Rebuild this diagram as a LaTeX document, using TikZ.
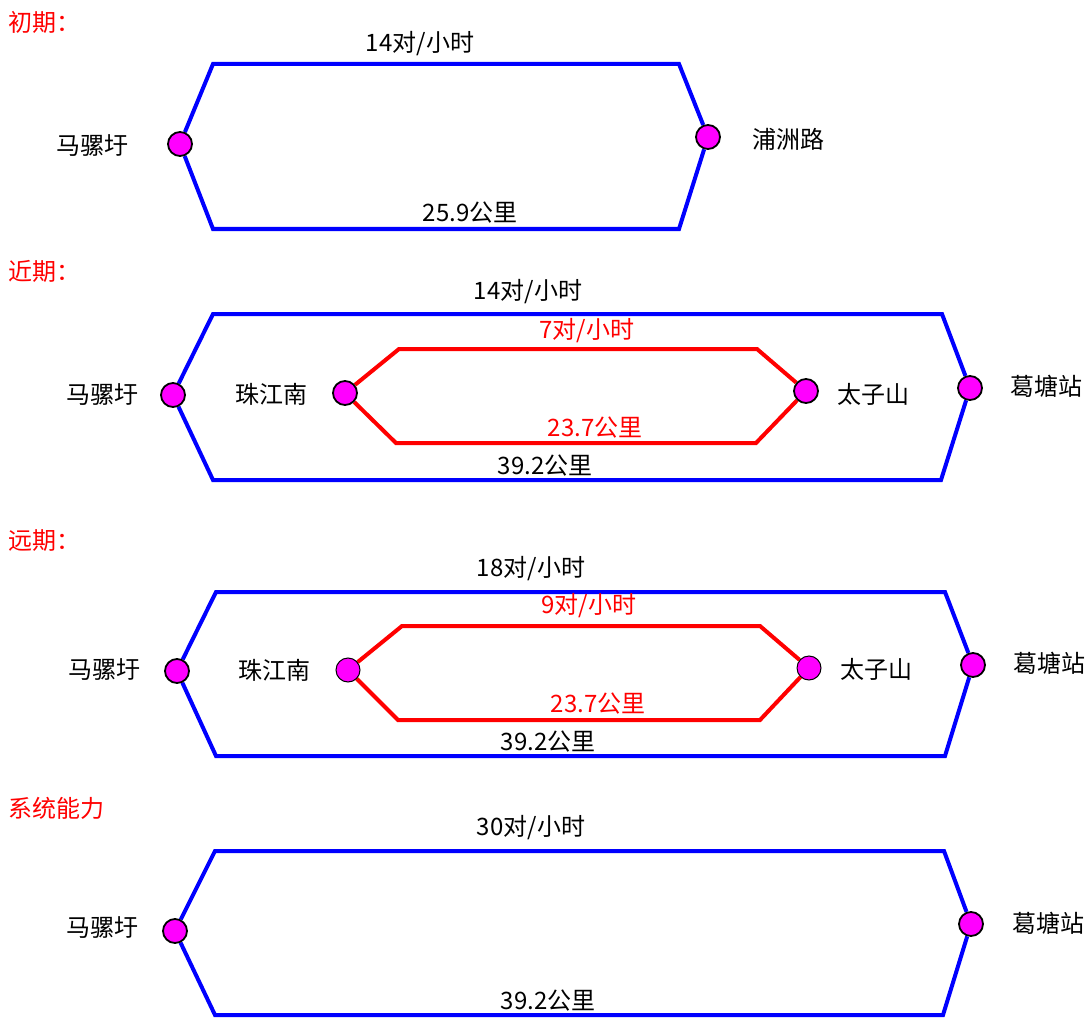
\documentclass[tikz,border=0pt]{standalone}
\usepackage{fontspec}
\setmainfont{Noto Sans CJK SC}
\pgfdeclarelayer{bg}
\pgfsetlayers{bg,main}
\definecolor{lineblue}{RGB}{0,0,255}
\definecolor{linered}{RGB}{255,0,0}
\definecolor{stationfill}{RGB}{255,0,255}
\begin{document}
\begin{tikzpicture}[x=1pt,y=-1pt,
  every node/.style={font=\fontsize{24}{28}\selectfont, inner sep=0pt},
  station/.style={circle, draw=black, line width=1.8pt, fill=stationfill, minimum size=24pt, inner sep=0pt},
  bluepath/.style={draw=lineblue, line width=4pt, line join=miter},
  redpath/.style={draw=linered, line width=4pt, line join=miter},
  title/.style={text=linered, anchor=west},
  redlabel/.style={text=linered}]
\useasboundingbox (0,0) rectangle (1092,1019);

% ---------- Panel 1 ----------
\node[title] (t1) at (8,22) {初期：};
\node[station] (a1) at (180,144) {};
\node[station] (b1) at (708,137) {};
\node (la1) at (92,146) {马骡圩};
\node (lb1) at (788,139) {浦洲路};
\node (f1) at (420,44) {14对/小时};
\node (d1) at (470,213) {25.9公里};
\begin{pgfonlayer}{bg}
\draw[bluepath] (a1) -- (213,64) -- (679,64) -- (b1);
\draw[bluepath] (a1) -- (213,229) -- (679,229) -- (b1);
\end{pgfonlayer}

% ---------- Panel 2 ----------
\node[title] (t2) at (8,271) {近期：};
\node[station] (a2) at (173,395) {};
\node[station] (b2) at (970,388) {};
\node[station] (c2) at (345,393) {};
\node[station] (e2) at (806,391) {};
\node (la2) at (102,395) {马骡圩};
\node (lc2) at (271,394) {珠江南};
\node (le2) at (873,394) {太子山};
\node (lb2) at (1046,386) {葛塘站};
\node (f2) at (528,292) {14对/小时};
\node[redlabel] (g2) at (587,331) {7对/小时};
\node[redlabel] (h2) at (595,428) {23.7公里};
\node (d2) at (545,466) {39.2公里};
\begin{pgfonlayer}{bg}
\draw[bluepath] (a2) -- (213,314) -- (942,314) -- (b2);
\draw[bluepath] (a2) -- (213,480) -- (941,480) -- (b2);
\draw[redpath] (c2) -- (399,349) -- (757,349) -- (e2);
\draw[redpath] (c2) -- (396,443) -- (756,443) -- (e2);
\end{pgfonlayer}

% ---------- Panel 3 ----------
\node[title] (t3) at (8,541) {远期：};
\node[station] (a3) at (177,671) {};
\node[station] (b3) at (973,665) {};
\node[station, line width=1pt] (c3) at (348,670) {};
\node[station, line width=1pt] (e3) at (809,668) {};
\node (la3) at (104,670) {马骡圩};
\node (lc3) at (274,670) {珠江南};
\node (le3) at (876,669) {太子山};
\node (lb3) at (1049,663) {葛塘站};
\node (f3) at (531,569) {18对/小时};
\node[redlabel] (g3) at (589,606) {9对/小时};
\node[redlabel] (h3) at (598,704) {23.7公里};
\node (d3) at (548,742) {39.2公里};
\begin{pgfonlayer}{bg}
\draw[bluepath] (a3) -- (216,592) -- (945,592) -- (b3);
\draw[bluepath] (a3) -- (216,756) -- (945,756) -- (b3);
\draw[redpath] (c3) -- (402,626) -- (760,626) -- (e3);
\draw[redpath] (c3) -- (398,720) -- (760,720) -- (e3);
\end{pgfonlayer}

% ---------- Panel 4 ----------
\node[title] (t4) at (8,808) {系统能力};
\node[station] (a4) at (175,931) {};
\node[station] (b4) at (971,924) {};
\node (la4) at (102,928) {马骡圩};
\node (lb4) at (1048,923) {葛塘站};
\node (f4) at (531,828) {30对/小时};
\node (d4) at (548,1001) {39.2公里};
\begin{pgfonlayer}{bg}
\draw[bluepath] (a4) -- (215,851) -- (944,851) -- (b4);
\draw[bluepath] (a4) -- (215,1015) -- (943,1015) -- (b4);
\end{pgfonlayer}
\end{tikzpicture}
\end{document}
